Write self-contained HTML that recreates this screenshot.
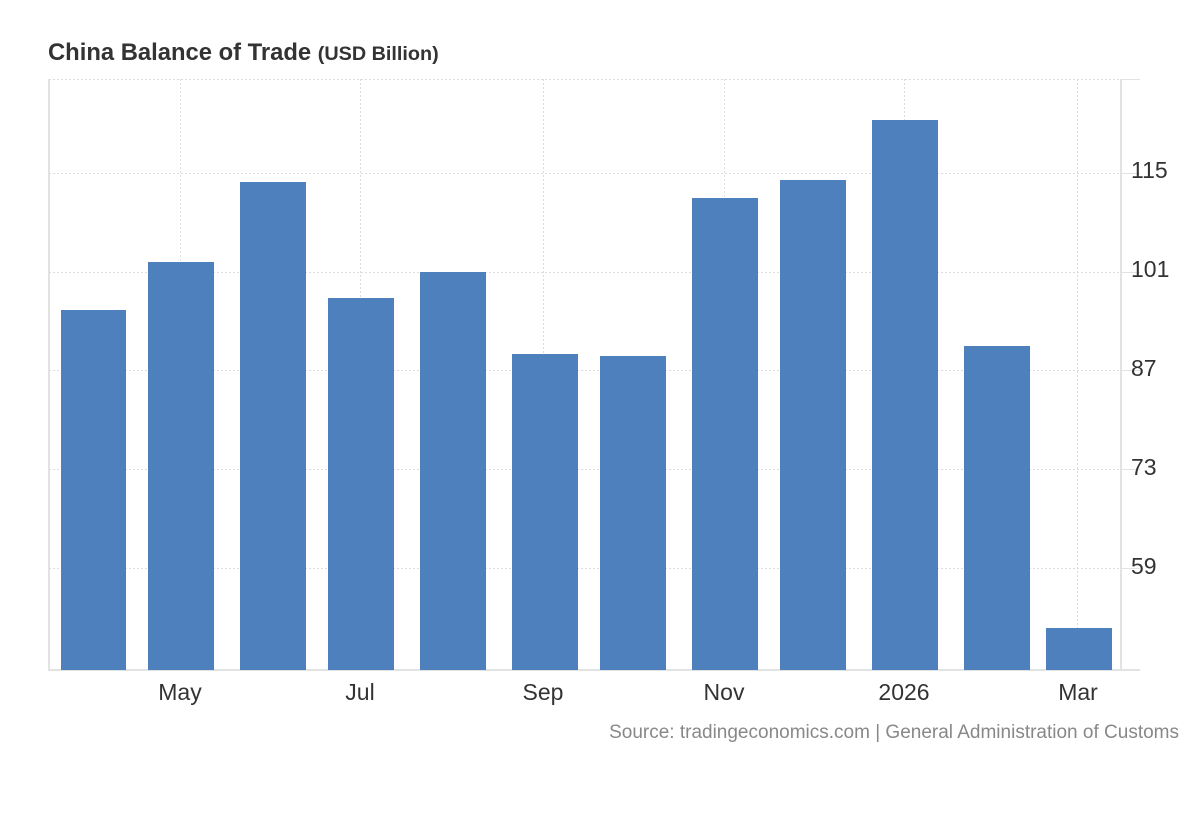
<!DOCTYPE html>
<html><head><meta charset="utf-8"><style>
html,body{margin:0;padding:0;background:#fff;}
svg{display:block;font-family:"Liberation Sans",Arial,sans-serif;}
</style></head><body>
<svg width="1200" height="820" viewBox="0 0 1200 820">
<text x="48" y="60" font-size="23.8" font-weight="bold" fill="#333">China Balance of Trade <tspan font-size="19.8">(USD Billion)</tspan></text>
<g stroke="#dcdcdc" stroke-width="1" stroke-dasharray="2,2">
<line x1="49" y1="79.5" x2="1121" y2="79.5"/>
<line x1="49" y1="173.5" x2="1121" y2="173.5"/>
<line x1="49" y1="272.5" x2="1121" y2="272.5"/>
<line x1="49" y1="370.5" x2="1121" y2="370.5"/>
<line x1="49" y1="469.5" x2="1121" y2="469.5"/>
<line x1="49" y1="568.5" x2="1121" y2="568.5"/>
<line x1="180.5" y1="79" x2="180.5" y2="670"/>
<line x1="360.5" y1="79" x2="360.5" y2="670"/>
<line x1="543.5" y1="79" x2="543.5" y2="670"/>
<line x1="724.5" y1="79" x2="724.5" y2="670"/>
<line x1="904.5" y1="79" x2="904.5" y2="670"/>
<line x1="1077.5" y1="79" x2="1077.5" y2="670"/>
</g>
<g stroke="#e2e2e2" stroke-width="2">
<line x1="49" y1="79" x2="49" y2="671"/>
<line x1="1121" y1="79" x2="1121" y2="671"/>
<line x1="48" y1="670" x2="1140" y2="670"/>
</g>
<g stroke="#e2e2e2" stroke-width="1">
<line x1="1121" y1="79.5" x2="1140" y2="79.5"/>
<line x1="1121" y1="173.5" x2="1140" y2="173.5"/>
<line x1="1121" y1="272.5" x2="1140" y2="272.5"/>
<line x1="1121" y1="370.5" x2="1140" y2="370.5"/>
<line x1="1121" y1="469.5" x2="1140" y2="469.5"/>
<line x1="1121" y1="568.5" x2="1140" y2="568.5"/>
</g>
<g fill="#4d80bc">
<rect x="61" y="310" width="65" height="360"/>
<rect x="148" y="262" width="66" height="408"/>
<rect x="240" y="182" width="66" height="488"/>
<rect x="328" y="298" width="66" height="372"/>
<rect x="420" y="272" width="66" height="398"/>
<rect x="512" y="354" width="66" height="316"/>
<rect x="600" y="356" width="66" height="314"/>
<rect x="692" y="198" width="66" height="472"/>
<rect x="780" y="180" width="66" height="490"/>
<rect x="872" y="120" width="66" height="550"/>
<rect x="964" y="346" width="66" height="324"/>
<rect x="1046" y="628" width="66" height="42"/>
</g>
<g font-size="23" fill="#333">
<text x="1131" y="178">115</text>
<text x="1131" y="277">101</text>
<text x="1131" y="376">87</text>
<text x="1131" y="475">73</text>
<text x="1131" y="574">59</text>
</g>
<g font-size="23" fill="#333" text-anchor="middle">
<text x="180" y="700">May</text>
<text x="360" y="700">Jul</text>
<text x="543" y="700">Sep</text>
<text x="724" y="700">Nov</text>
<text x="904" y="700">2026</text>
<text x="1078" y="700">Mar</text>
</g>
<text x="1179" y="738" font-size="19" fill="#888" text-anchor="end">Source: tradingeconomics.com | General Administration of Customs</text>
</svg>
</body></html>
